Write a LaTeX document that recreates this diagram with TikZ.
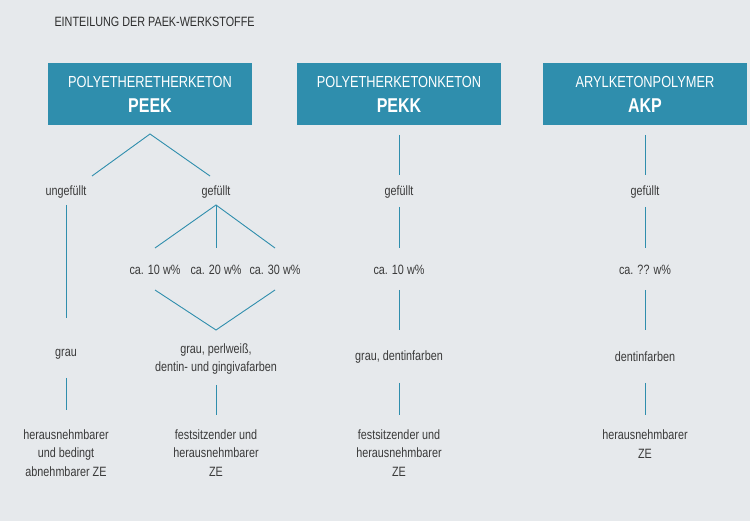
\documentclass[tikz,border=0pt]{standalone}
\usepackage{fontspec}
\setmainfont[FakeStretch=0.8]{Liberation Sans}
\begin{document}
\begin{tikzpicture}[x=1pt,y=-1pt,
  box/.style={fill=hd,minimum width=204pt,minimum height=62pt,text=white,align=center,inner sep=0pt},
  lbl/.style={text=tx,align=center,font=\fontsize{13.5}{18.5}\selectfont,inner sep=1pt},
  ln/.style={draw=hd,line width=0.9pt}]
\definecolor{bg}{HTML}{E6E9EC}\definecolor{hd}{HTML}{2F8EAD}\definecolor{tx}{HTML}{3A3A3A}
\fill[bg] (0,0) rectangle (750,521);
\useasboundingbox (0,0) rectangle (750,521);
\node[anchor=west,text=tx!80!black,font=\fontsize{13.5}{15}\selectfont] (t) at (51,22) {EINTEILUNG DER PAEK-WERKSTOFFE};
\node[box] (b1) at (150,94) {\fontsize{16}{18}\selectfont POLYETHERETHERKETON\\[10pt]\fontsize{20}{21}\selectfont\bfseries PEEK};
\node[box] (b2) at (399,94) {\fontsize{16}{18}\selectfont POLYETHERKETONKETON\\[10pt]\fontsize{20}{21}\selectfont\bfseries PEKK};
\node[box] (b3) at (645,94) {\fontsize{16}{18}\selectfont ARYLKETONPOLYMER\\[10pt]\fontsize{20}{21}\selectfont\bfseries AKP};
% PEEK
\coordinate (p0) at (150,134);
\node[lbl] (u) at (66,192) {ungefüllt};
\node[lbl] (g) at (216,192) {gefüllt};
\draw[ln] (92,176) -- (p0) -- (210,176);
\node[lbl] (gr) at (66,354) {grau};
\node[lbl] (h1) at (66,453) {herausnehmbarer\\und bedingt\\abnehmbarer ZE};
\draw[ln] (66,205) -- (66,318);
\draw[ln] (66,378) -- (66,410);
\node[lbl] (c1) at (155,270) {ca. 10 w\%};
\node[lbl] (c2) at (216,270) {ca. 20 w\%};
\node[lbl] (c3) at (275,270) {ca. 30 w\%};
\coordinate (gs) at (216,205);
\draw[ln] (155,248) -- (gs) -- (275,248);
\draw[ln] (gs) -- (216,248);
\coordinate (m) at (216,330);
\draw[ln] (155,290) -- (m) -- (275,290);
\node[lbl] (f1) at (216,359) {grau, perlweiß,\\dentin- und gingivafarben};
\draw[ln] (216,385) -- (216,415);
\node[lbl] (h2) at (216,453) {festsitzender und\\herausnehmbarer\\ZE};
% PEKK
\node[lbl] (g2) at (399,192) {gefüllt};
\node[lbl] (c4) at (399,270) {ca. 10 w\%};
\node[lbl] (f2) at (399,357) {grau, dentinfarben};
\node[lbl] (h3) at (399,453) {festsitzender und\\herausnehmbarer\\ZE};
\draw[ln] (399,135) -- (399,175);
\draw[ln] (399,207) -- (399,248);
\draw[ln] (399,290) -- (399,330);
\draw[ln] (399,383) -- (399,415);
% AKP
\node[lbl] (g3) at (645,192) {gefüllt};
\node[lbl] (c5) at (645,270) {ca. ?? w\%};
\node[lbl] (f3) at (645,357) {dentinfarben};
\node[lbl] (h4) at (645,444) {herausnehmbarer\\ZE};
\draw[ln] (645,135) -- (645,175);
\draw[ln] (645,207) -- (645,248);
\draw[ln] (645,290) -- (645,330);
\draw[ln] (645,383) -- (645,415);
\end{tikzpicture}
\end{document}
